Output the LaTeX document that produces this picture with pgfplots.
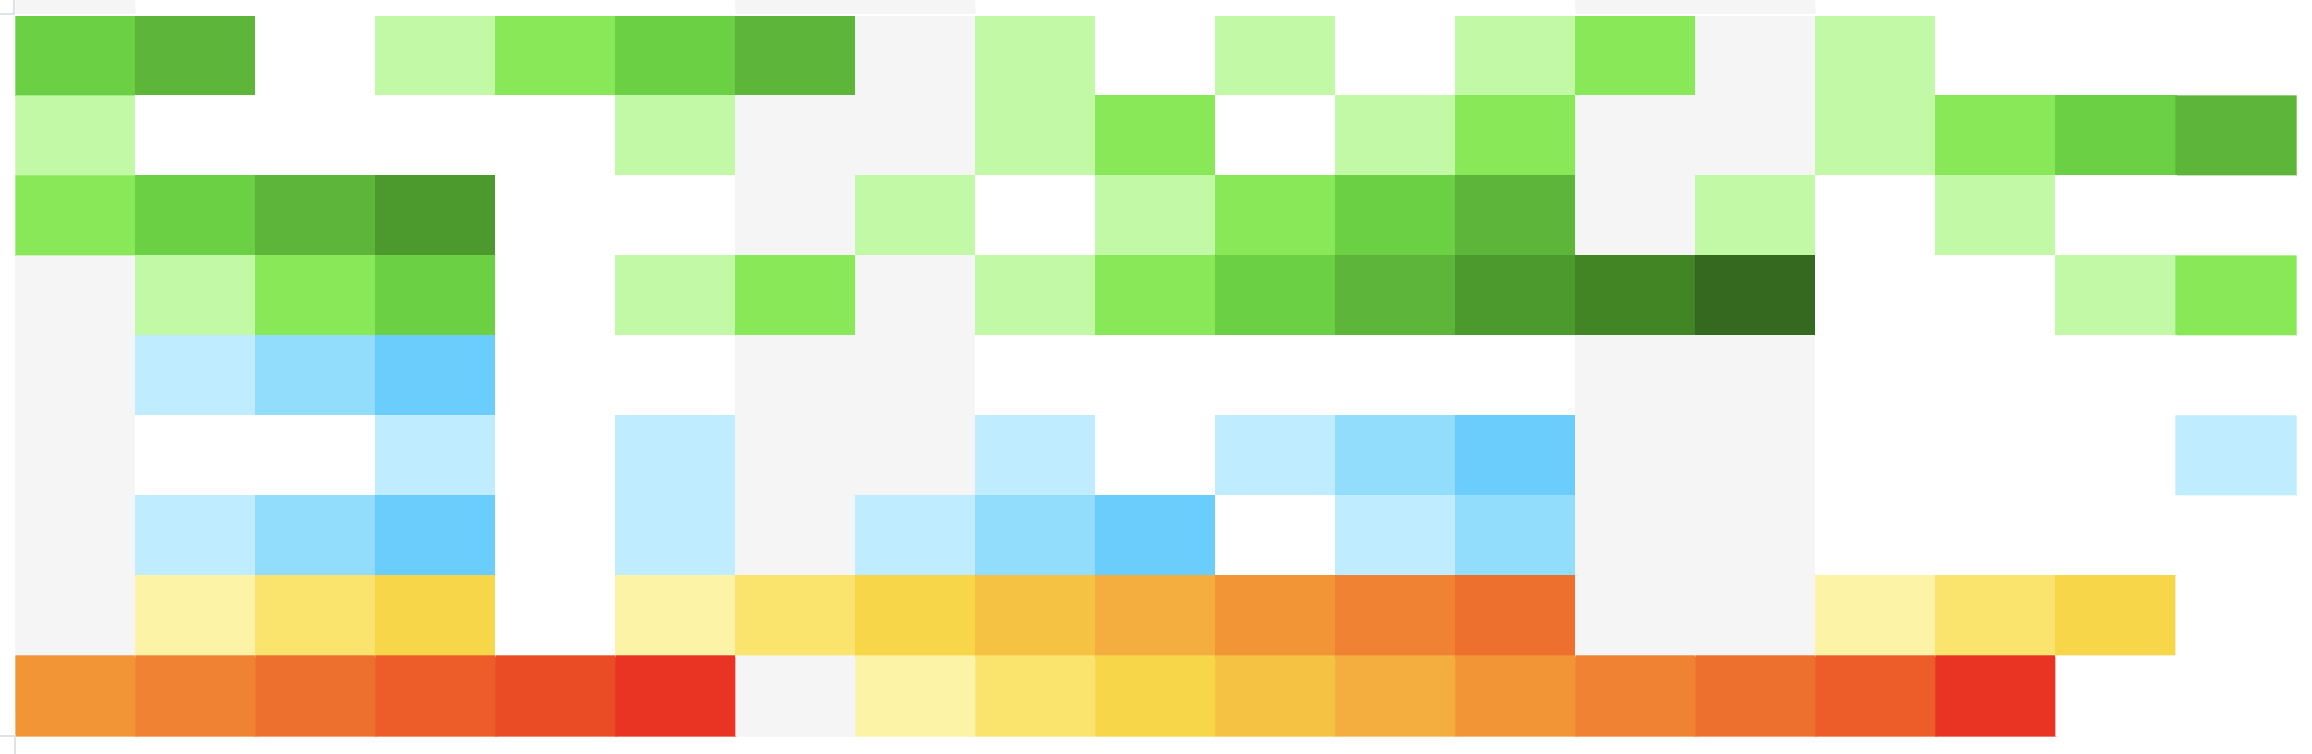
\documentclass[border=0pt]{standalone}
\usepackage{pgfplots}
\pgfplotsset{compat=1.18}
\definecolor{crop}{HTML}{DFE3E8}
\begin{document}
\begin{tikzpicture}
\begin{axis}[
  width=23.12cm, height=7.54cm, scale only axis,
  xmin=-0.63333, xmax=18.63333, ymin=-8.725, ymax=0.7,
  enlargelimits=false, axis line style={draw=none}, ticks=none,
  colormap={cells}{
    rgb255=(255,255,255) rgb255=(245,245,245)
    rgb255=(194,249,166) rgb255=(136,232,88) rgb255=(108,208,68) rgb255=(93,181,58) rgb255=(76,154,46) rgb255=(66,133,37) rgb255=(53,105,31)
    rgb255=(191,236,254) rgb255=(147,221,252) rgb255=(107,205,252)
    rgb255=(253,243,166) rgb255=(251,228,110) rgb255=(248,214,74) rgb255=(245,194,67) rgb255=(244,173,63) rgb255=(241,149,55) rgb255=(240,131,51) rgb255=(238,112,47) rgb255=(236,93,41) rgb255=(234,77,38) rgb255=(233,51,35)
  },
  colormap access=direct,
]
\addplot[matrix plot*, mesh/cols=19, point meta=explicit] coordinates {
(0,1)[1] (1,1)[0] (2,1)[0] (3,1)[0] (4,1)[0] (5,1)[0] (6,1)[1] (7,1)[1] (8,1)[0] (9,1)[0] (10,1)[0] (11,1)[0] (12,1)[0] (13,1)[1] (14,1)[1] (15,1)[0] (16,1)[0] (17,1)[0] (18,1)[0]

(0,0)[4] (1,0)[5] (2,0)[0] (3,0)[2] (4,0)[3] (5,0)[4] (6,0)[5] (7,0)[1] (8,0)[2] (9,0)[0] (10,0)[2] (11,0)[0] (12,0)[2] (13,0)[3] (14,0)[1] (15,0)[2] (16,0)[0] (17,0)[0] (18,0)[0]

(0,-1)[2] (1,-1)[0] (2,-1)[0] (3,-1)[0] (4,-1)[0] (5,-1)[2] (6,-1)[1] (7,-1)[1] (8,-1)[2] (9,-1)[3] (10,-1)[0] (11,-1)[2] (12,-1)[3] (13,-1)[1] (14,-1)[1] (15,-1)[2] (16,-1)[3] (17,-1)[4] (18,-1)[5]

(0,-2)[3] (1,-2)[4] (2,-2)[5] (3,-2)[6] (4,-2)[0] (5,-2)[0] (6,-2)[1] (7,-2)[2] (8,-2)[0] (9,-2)[2] (10,-2)[3] (11,-2)[4] (12,-2)[5] (13,-2)[1] (14,-2)[2] (15,-2)[0] (16,-2)[2] (17,-2)[0] (18,-2)[0]

(0,-3)[1] (1,-3)[2] (2,-3)[3] (3,-3)[4] (4,-3)[0] (5,-3)[2] (6,-3)[3] (7,-3)[1] (8,-3)[2] (9,-3)[3] (10,-3)[4] (11,-3)[5] (12,-3)[6] (13,-3)[7] (14,-3)[8] (15,-3)[0] (16,-3)[0] (17,-3)[2] (18,-3)[3]

(0,-4)[1] (1,-4)[9] (2,-4)[10] (3,-4)[11] (4,-4)[0] (5,-4)[0] (6,-4)[1] (7,-4)[1] (8,-4)[0] (9,-4)[0] (10,-4)[0] (11,-4)[0] (12,-4)[0] (13,-4)[1] (14,-4)[1] (15,-4)[0] (16,-4)[0] (17,-4)[0] (18,-4)[0]

(0,-5)[1] (1,-5)[0] (2,-5)[0] (3,-5)[9] (4,-5)[0] (5,-5)[9] (6,-5)[1] (7,-5)[1] (8,-5)[9] (9,-5)[0] (10,-5)[9] (11,-5)[10] (12,-5)[11] (13,-5)[1] (14,-5)[1] (15,-5)[0] (16,-5)[0] (17,-5)[0] (18,-5)[9]

(0,-6)[1] (1,-6)[9] (2,-6)[10] (3,-6)[11] (4,-6)[0] (5,-6)[9] (6,-6)[1] (7,-6)[9] (8,-6)[10] (9,-6)[11] (10,-6)[0] (11,-6)[9] (12,-6)[10] (13,-6)[1] (14,-6)[1] (15,-6)[0] (16,-6)[0] (17,-6)[0] (18,-6)[0]

(0,-7)[1] (1,-7)[12] (2,-7)[13] (3,-7)[14] (4,-7)[0] (5,-7)[12] (6,-7)[13] (7,-7)[14] (8,-7)[15] (9,-7)[16] (10,-7)[17] (11,-7)[18] (12,-7)[19] (13,-7)[1] (14,-7)[1] (15,-7)[12] (16,-7)[13] (17,-7)[14] (18,-7)[0]

(0,-8)[17] (1,-8)[18] (2,-8)[19] (3,-8)[20] (4,-8)[21] (5,-8)[22] (6,-8)[1] (7,-8)[12] (8,-8)[13] (9,-8)[14] (10,-8)[15] (11,-8)[16] (12,-8)[17] (13,-8)[18] (14,-8)[19] (15,-8)[20] (16,-8)[22] (17,-8)[0] (18,-8)[0]
};
\fill[white] (axis cs:-0.63333,0.525) rectangle (axis cs:18.63333,0.5);
\draw[crop, line width=0.45pt] (axis cs:-0.63333,0.525) -- (axis cs:-0.51667,0.525) -- (axis cs:-0.51667,0.7);
\draw[crop, line width=0.45pt] (axis cs:-0.63333,-8.5) -- (axis cs:-0.5083,-8.5) -- (axis cs:-0.5083,-8.725);
\end{axis}
\end{tikzpicture}
\end{document}
